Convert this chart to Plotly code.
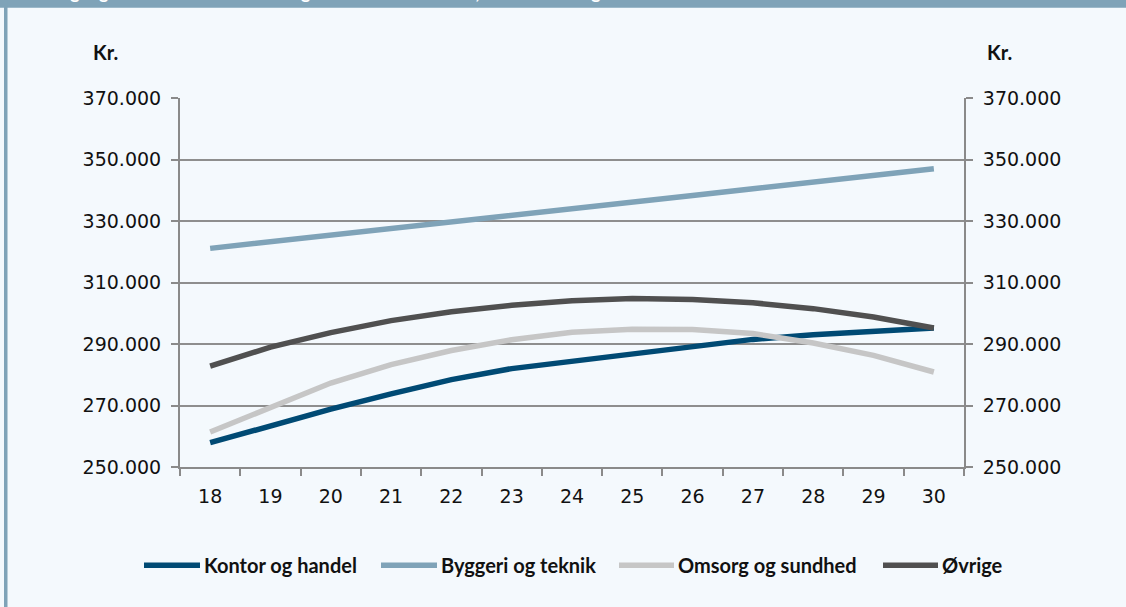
import plotly.graph_objects as go

# ---- data ----
ages = ["18", "19", "20", "21", "22", "23", "24", "25", "26", "27", "28", "29", "30"]
kontor = [257900, 263400, 268800, 273800, 278400, 282000, 284400, 286800, 289400, 291500, 293000, 294200, 295200]
byggeri = [321100, 323200, 325400, 327500, 329600, 331800, 333900, 336100, 338300, 340500, 342600, 344800, 347000]
omsorg = [261400, 269500, 277300, 283300, 287900, 291400, 293800, 294800, 294700, 293400, 290300, 286300, 280900]
ovrige = [282800, 289000, 293700, 297600, 300500, 302600, 304100, 304800, 304500, 303400, 301500, 298800, 295200]
series_names = ["Kontor og handel", "Byggeri og teknik", "Omsorg og sundhed", "Øvrige"]
series_values = [kontor, byggeri, omsorg, ovrige]
series_colors = ["#004A74", "#7FA3B8", "#C6C6C6", "#505050"]
y_min, y_max, y_step = 250000, 370000, 20000
unit_label = "Kr."
title_text = "Udgangsløn fordelt efter alder og uddannelsesområde, timeløn omregnet til årsløn"

# ---- geometry helpers (pixel -> paper) ----
W, H = 1126, 607
L, R, T, B = 180, 964, 97.7, 466.7
PW, PH = R - L, B - T


def px(x):
    return (x - L) / PW


def py(y):
    return (B - y) / PH


BG = "#F4F9FD"
FRAME = "#7FA3B8"
AX = "#8A8A8A"
TICK_FONT = dict(family="DejaVu Sans", size=19, color="#111111")

fig = go.Figure()
for i, (name, vals, col) in enumerate(zip(series_names, series_values, series_colors)):
    fig.add_trace(go.Scatter(
        x=ages, y=vals, name=name, mode="lines",
        line=dict(color=col, width=5.5),
        yaxis="y2" if i == len(series_names) - 1 else "y",
        showlegend=False,
    ))

shapes = [
    dict(type="rect", xref="paper", yref="paper", x0=px(-2), x1=px(W + 2), y0=py(7.5), y1=py(-2),
         fillcolor=FRAME, line=dict(width=0), layer="below"),
    dict(type="rect", xref="paper", yref="paper", x0=px(4), x1=px(7.5), y0=py(H + 2), y1=py(0),
         fillcolor=FRAME, line=dict(width=0), layer="below"),
]
annotations = [
    dict(text=title_text, xref="paper", yref="paper", x=px(45), y=py(5), xanchor="left", yanchor="bottom",
         showarrow=False, font=dict(family="Lato", size=18, color="white", weight="bold")),
    dict(text="<b>%s</b>" % unit_label, xref="paper", yref="paper", x=px(105), y=py(52),
         xanchor="center", yanchor="middle", showarrow=False,
         font=dict(family="Lato", size=20, color="#111111")),
    dict(text="<b>%s</b>" % unit_label, xref="paper", yref="paper", x=px(999), y=py(52),
         xanchor="center", yanchor="middle", showarrow=False,
         font=dict(family="Lato", size=20, color="#111111")),
]

# manual legend
leg_y = 565
leg_lines = [(144, 200), (381, 437), (619, 674), (883, 938)]
for (x0, x1), name, col in zip(leg_lines, series_names, series_colors):
    shapes.append(dict(type="line", xref="paper", yref="paper", x0=px(x0), x1=px(x1),
                       y0=py(leg_y), y1=py(leg_y), line=dict(color=col, width=5.5)))
    annotations.append(dict(text="<b>%s</b>" % name, xref="paper", yref="paper", x=px(x1 + 2), y=py(leg_y),
                            xanchor="left", yanchor="middle", showarrow=False,
                            font=dict(family="Lato", size=20, color="#111111")))

yax = dict(range=[y_min, y_max], dtick=y_step, tick0=y_min, tickformat=",d",
           ticks="outside", ticklen=7, tickwidth=2, tickcolor=AX,
           showline=True, linecolor=AX, linewidth=2,
           tickfont=TICK_FONT, ticklabelstandoff=6, zeroline=False)

fig.update_layout(
    width=W, height=H,
    margin=dict(l=L, r=W - R, t=T, b=H - B),
    paper_bgcolor=BG, plot_bgcolor=BG,
    separators=",.",
    showlegend=False,
    xaxis=dict(type="category", range=[-0.5, len(ages) - 0.5], tickson="boundaries",
               ticks="outside", ticklen=7, tickwidth=2, tickcolor=AX,
               showline=True, linecolor=AX, linewidth=2, showgrid=False,
               tickfont=TICK_FONT, ticklabelstandoff=11, zeroline=False),
    yaxis=dict(**yax, showgrid=True, gridcolor="#8E8E8E", gridwidth=1.5, side="left"),
    yaxis2=dict(**yax, showgrid=False, overlaying="y", side="right"),
    shapes=shapes,
    annotations=annotations,
)

fig.write_html("out.html", config={"displayModeBar": False},
               post_script="document.body.style.margin='0';")
